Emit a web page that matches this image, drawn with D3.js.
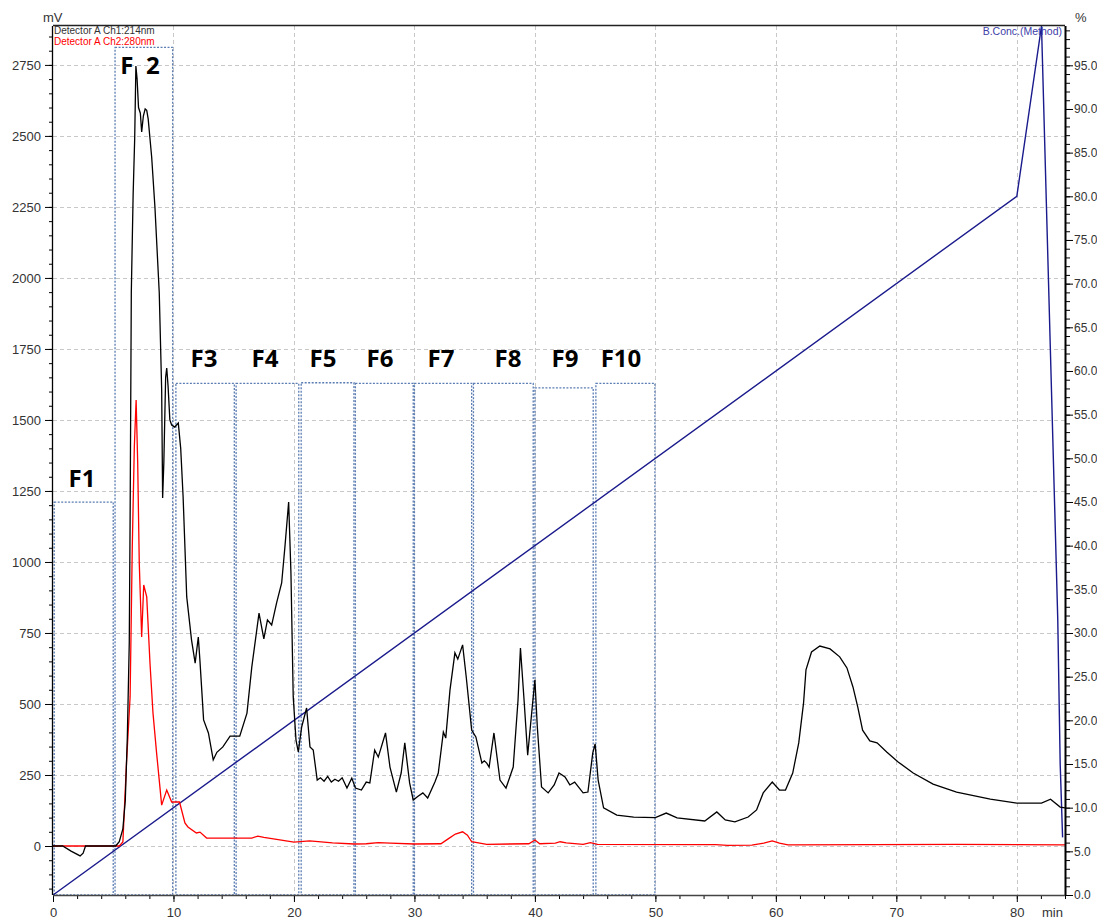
<!DOCTYPE html>
<html><head><meta charset="utf-8">
<script src="https://cdn.jsdelivr.net/npm/d3@7"></script>
<style>
html,body{margin:0;padding:0;background:#fff;}
svg{display:block;font-family:"Liberation Sans",Arial,sans-serif;}
</style></head>
<body><svg id="chart" width="1097" height="919"></svg>
<script>
// ---- data ----
const ch1Time = [0,0.8,1.5,2.25,2.5,2.7,5.2,5.5,5.8,6.0,6.17,6.33,6.4,6.5,6.65,6.78,6.88,6.98,7.1,7.25,7.36,7.5,7.65,7.78,7.9,8.19,8.46,8.82,9.02,9.1,9.2,9.35,9.44,9.55,9.7,9.85,10.1,10.4,10.6,10.8,11.1,11.5,11.8,12.06,12.2,12.5,12.9,13.3,13.6,14.1,14.7,15.5,16.1,16.5,17.1,17.5,17.8,18.15,18.56,18.98,19.25,19.56,19.75,19.94,20.17,20.36,20.64,21.05,21.33,21.6,21.93,22.2,22.5,22.8,23.1,23.4,23.7,24.0,24.4,24.8,25.1,25.6,26.0,26.3,26.7,27.0,27.6,27.97,28.5,28.9,29.2,29.6,29.9,30.3,30.7,31.1,31.7,31.98,32.4,32.6,32.95,33.36,33.6,34.0,34.3,34.75,35.1,35.6,35.8,36.0,36.2,36.6,37.1,37.6,38.2,38.6,38.8,39.1,39.4,39.7,40.0,40.2,40.55,41.1,41.6,42.0,42.5,42.9,43.3,44.0,44.4,44.8,45.0,45.25,45.7,46.8,48.2,50.0,50.9,51.8,54.1,55.1,55.8,56.6,57.7,58.4,58.95,59.7,60.3,60.8,61.4,61.9,62.3,62.5,62.96,63.65,64.5,65.3,65.9,66.4,66.8,67.2,67.8,68.4,69.2,70.15,71.4,73.05,75.0,77.8,80.0,82.05,82.8,83.6,84];
const ch1Value = [0,0,-18,-35,-25,0,0,15,60,160,384,715,1150,1950,2290,2490,2746,2700,2600,2580,2514,2570,2595,2590,2560,2426,2250,1947,1606,1225,1350,1650,1683,1620,1500,1482,1475,1489,1400,1229,877,725,644,736,650,444,398,303,330,349,387,387,468,630,820,729,796,778,856,926,1053,1211,961,525,373,331,419,486,349,338,232,240,228,245,225,235,228,240,204,239,204,197,225,222,338,313,398,278,190,257,363,222,162,175,187,169,225,257,401,380,549,680,658,708,595,408,384,292,300,292,278,398,232,204,278,514,697,514,320,454,585,419,208,187,215,257,243,215,225,187,190,327,359,232,134,109,102,100,116,99,88,120,92,85,102,127,187,225,197,197,257,363,504,620,683,704,694,666,627,560,489,408,370,363,331,296,257,218,190,165,151,151,165,137,134];

const ch2Time = [0,5.5,5.8,6.1,6.4,6.58,6.75,6.9,7.03,7.16,7.36,7.53,7.78,8.05,8.3,8.6,9.02,9.44,9.85,10.5,10.95,11.2,11.9,12.2,12.75,14.9,16.5,17.0,17.5,18.3,20,21.3,23.2,25,26,27,28,30,32.2,32.8,33.4,34.0,34.4,34.75,36.0,39.5,40.0,40.4,41.7,42.1,42.6,44,44.6,45.2,55,56,58,59,59.7,60.3,61,75,84];
const ch2Value = [0,0,14,292,525,1053,1405,1570,1349,996,736,919,877,644,468,327,144,197,155,155,81,67,46,49,28,28,28,35,30,25,14,18,11,7,8,12,10,7,8,25,42,50,38,15,6,8,21,8,10,15,11,6,12,6,5,2,3,10,18,10,4,6,4];

const concTime = [0,80,82.05,83.4,83.6,83.8];
const concValue = [0,80,99.5,31.5,15,6.6];

const fracLabels = ["F1","F\u00a0\u00a02","F3","F4","F5","F6","F7","F8","F9","F10"];
const fracStart = [0.1,5.15,10.2,15.2,20.6,25.1,30.0,34.9,40.0,45.06];
const fracEnd   = [5.0,9.93,15.05,20.4,24.98,29.9,34.75,39.86,44.84,49.96];
const fracTop   = [1211,2812,1629,1629,1631,1629,1629,1629,1613,1629];
const fracLabelX = [82,140,204,265,323,380,441,508,565,621];
const fracLabelY = [487,74,367,367,367,367,367,367,367,367];

const xTicks = [0,10,20,30,40,50,60,70,80];
const yLeftTicks = [0,250,500,750,1000,1250,1500,1750,2000,2250,2500,2750];
const yRightTicks = [0,5,10,15,20,25,30,35,40,45,50,55,60,65,70,75,80,85,90,95];

// ---- layout ----
const L = 53, R = 1065, T = 26, B = 895;
const svg = d3.select("#chart");
const x = d3.scaleLinear().domain([0,84]).range([L,R]);
const yL = d3.scaleLinear().domain([-172.5,2887]).range([B,T]);
const yR = d3.scaleLinear().domain([0,99.5]).range([B,T]);

svg.append("defs").append("clipPath").attr("id","clip")
  .append("rect").attr("x",L).attr("y",T).attr("width",R-L).attr("height",B-T);

// grid
const grid = svg.append("g").attr("stroke","#c8c8c8").attr("stroke-dasharray","4,3").attr("stroke-width",1);
yLeftTicks.forEach(v=>grid.append("line").attr("x1",L).attr("x2",R).attr("y1",Math.round(yL(v))+0.5).attr("y2",Math.round(yL(v))+0.5));
xTicks.filter(v=>v>0).forEach(v=>grid.append("line").attr("y1",T).attr("y2",B).attr("x1",Math.round(x(v))+0.5).attr("x2",Math.round(x(v))+0.5));

// fraction boxes
const fr = svg.append("g");
fracLabels.forEach((lab,i)=>{
  fr.append("rect")
    .attr("x",x(fracStart[i])).attr("y",yL(fracTop[i]))
    .attr("width",x(fracEnd[i])-x(fracStart[i])).attr("height",B-yL(fracTop[i]))
    .attr("fill","none").attr("stroke","#5b7db3").attr("stroke-width",1.3).attr("stroke-dasharray","2,1.5");
});

const plot = svg.append("g").attr("clip-path","url(#clip)");
plot.append("path").datum(concTime.map((t,i)=>[t,concValue[i]]))
  .attr("fill","none").attr("stroke","#1a1a8c").attr("stroke-width",1.4)
  .attr("d",d3.line().x(d=>x(d[0])).y(d=>yR(d[1])));
plot.append("path").datum(ch2Time.map((t,i)=>[t,ch2Value[i]]))
  .attr("fill","none").attr("stroke","#ff0000").attr("stroke-width",1.3)
  .attr("d",d3.line().x(d=>x(d[0])).y(d=>yL(d[1])));
plot.append("path").datum(ch1Time.map((t,i)=>[t,ch1Value[i]]))
  .attr("fill","none").attr("stroke","#000").attr("stroke-width",1.3)
  .attr("d",d3.line().x(d=>x(d[0])).y(d=>yL(d[1])));

// fraction labels
fracLabels.forEach((lab,i)=>{
  svg.append("text").attr("x",fracLabelX[i]).attr("y",fracLabelY[i])
    .attr("text-anchor","middle").attr("font-family","'Open Sans',sans-serif")
    .attr("font-weight","bold").attr("font-size",24).attr("fill","#000").text(lab);
});

// axes
const tickText = "#333";
function style(g,fs){ g.selectAll("text").attr("fill",tickText).attr("font-size",fs||13).attr("font-family","'Liberation Sans',Arial,sans-serif"); g.selectAll(".tick line").attr("stroke","#000"); }

const minorL = d3.range(-150,2887,50);
svg.append("g").attr("transform",`translate(${L},0)`).call(d3.axisLeft(yL).tickValues(minorL).tickSize(4).tickFormat("")).call(g=>{g.select(".domain").remove();g.selectAll("line").attr("stroke","#000");});
svg.append("g").attr("transform",`translate(${L},0)`).call(d3.axisLeft(yL).tickValues(yLeftTicks).tickSize(8).tickPadding(4).tickFormat(d3.format("d")))
  .call(g=>{g.select(".domain").remove();style(g);});

const minorR = d3.range(0,99.5,1);
svg.append("g").attr("transform",`translate(${R},0)`).call(d3.axisRight(yR).tickValues(minorR).tickSize(5).tickFormat("")).call(g=>{g.select(".domain").remove();g.selectAll("line").attr("stroke","#000");});
svg.append("g").attr("transform",`translate(${R},0)`).call(d3.axisRight(yR).tickValues(yRightTicks).tickSize(8).tickPadding(1).tickFormat(d3.format(".1f")))
  .call(g=>{g.select(".domain").remove();style(g,12);});

const minorX = d3.range(0,84.1,2);
svg.append("g").attr("transform",`translate(0,${B})`).call(d3.axisBottom(x).tickValues(minorX).tickSize(4).tickFormat("")).call(g=>{g.select(".domain").remove();g.selectAll("line").attr("stroke","#000");});
svg.append("g").attr("transform",`translate(0,${B})`).call(d3.axisBottom(x).tickValues(xTicks).tickSize(7).tickPadding(6).tickFormat(d3.format("d")))
  .call(g=>{g.select(".domain").remove();style(g);});

// frame lines
svg.append("line").attr("x1",L).attr("x2",R).attr("y1",T-0.5).attr("y2",T-0.5).attr("stroke","#222").attr("stroke-width",1.5);
svg.append("line").attr("x1",L).attr("x2",R).attr("y1",B+0.5).attr("y2",B+0.5).attr("stroke","#444").attr("stroke-width",1.5);
svg.append("line").attr("x1",L-0.5).attr("x2",L-0.5).attr("y1",T).attr("y2",B).attr("stroke","#000").attr("stroke-width",1.3);
svg.append("line").attr("x1",R+0.5).attr("x2",R+0.5).attr("y1",T).attr("y2",B).attr("stroke","#000").attr("stroke-width",2);

// titles
svg.append("text").attr("x",43).attr("y",22).attr("font-size",13).attr("fill",tickText).text("mV");
svg.append("text").attr("x",1075).attr("y",22).attr("font-size",13).attr("fill",tickText).text("%");
svg.append("text").attr("x",1042).attr("y",917).attr("font-size",13).attr("fill",tickText).text("min");
svg.append("text").attr("x",L+1).attr("y",34).attr("font-size",10).attr("fill","#333").text("Detector A Ch1:214nm");
svg.append("text").attr("x",L+1).attr("y",45).attr("font-size",10).attr("fill","#ff0000").text("Detector A Ch2:280nm");
svg.append("text").attr("x",R-3).attr("y",35).attr("font-size",10.5).attr("fill","#4040a8").attr("text-anchor","end").text("B.Conc.(Method)");
</script></body></html>
